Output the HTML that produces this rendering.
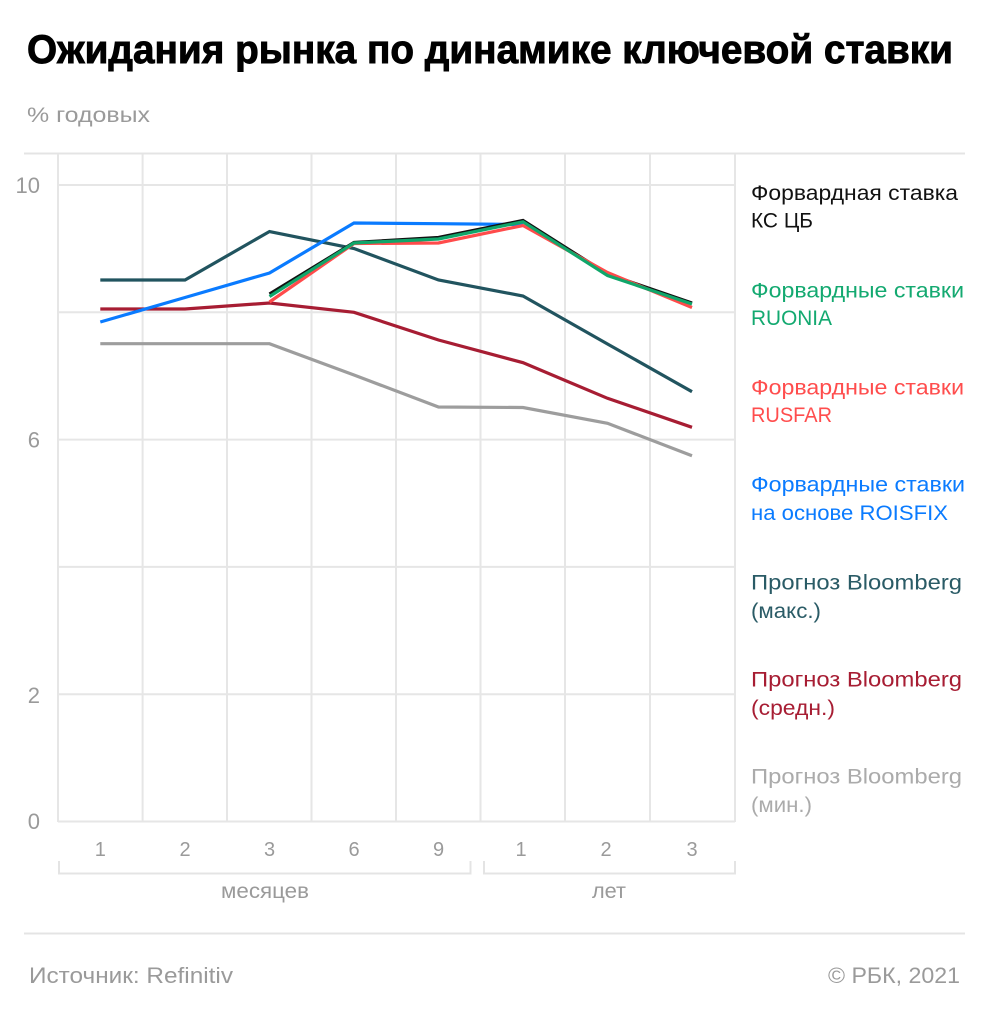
<!DOCTYPE html>
<html>
<head>
<meta charset="utf-8">
<style>
  html,body{margin:0;padding:0;background:#fff;}
  svg{display:block;}
  text{font-family:"Liberation Sans","Noto Sans CJK SC",sans-serif;}
</style>
</head>
<body>
<svg width="989" height="1024" viewBox="0 0 989 1024" xmlns="http://www.w3.org/2000/svg">
  <rect width="989" height="1024" fill="#fff"/>

  <!-- Title -->
  <text x="27" y="63" font-size="40" font-weight="bold" fill="#000" stroke="#000" stroke-width="0.9" textLength="926" lengthAdjust="spacingAndGlyphs">Ожидания рынка по динамике ключевой ставки</text>
  <text x="27" y="122" font-size="21" fill="#9a9a9a" textLength="123" lengthAdjust="spacingAndGlyphs">% годовых</text>

  <!-- top separator -->
  <line x1="24" y1="153.5" x2="965" y2="153.5" stroke="#e4e4e4" stroke-width="2"/>

  <!-- grid -->
  <g stroke="#e6e6e6" stroke-width="2">
    <line x1="58" y1="154" x2="58" y2="822"/>
    <line x1="142.6" y1="154" x2="142.6" y2="822"/>
    <line x1="227" y1="154" x2="227" y2="822"/>
    <line x1="311.5" y1="154" x2="311.5" y2="822"/>
    <line x1="396" y1="154" x2="396" y2="822"/>
    <line x1="480.5" y1="154" x2="480.5" y2="822"/>
    <line x1="565" y1="154" x2="565" y2="822"/>
    <line x1="650" y1="154" x2="650" y2="822"/>
    <line x1="735" y1="154" x2="735" y2="822"/>
    <line x1="58" y1="185" x2="735" y2="185"/>
    <line x1="58" y1="312.3" x2="735" y2="312.3"/>
    <line x1="58" y1="439.6" x2="735" y2="439.6"/>
    <line x1="58" y1="566.9" x2="735" y2="566.9"/>
    <line x1="58" y1="694.2" x2="735" y2="694.2"/>
    <line x1="58" y1="821.5" x2="735" y2="821.5"/>
  </g>

  <!-- y labels -->
  <g font-size="22" fill="#9a9a9a" text-anchor="end">
    <text x="40" y="193">10</text>
    <text x="40" y="447.5">6</text>
    <text x="40" y="703">2</text>
    <text x="40" y="829">0</text>
  </g>

  <!-- x labels -->
  <g font-size="20" fill="#9a9a9a" text-anchor="middle">
    <text x="100.3" y="856">1</text>
    <text x="185" y="856">2</text>
    <text x="269.5" y="856">3</text>
    <text x="354" y="856">6</text>
    <text x="438.5" y="856">9</text>
    <text x="521" y="856">1</text>
    <text x="606" y="856">2</text>
    <text x="692" y="856">3</text>
  </g>

  <!-- brackets -->
  <g stroke="#e4e4e4" stroke-width="2" fill="none">
    <polyline points="59,861 59,873.5 470.5,873.5 470.5,861"/>
    <polyline points="484,861 484,873.5 735,873.5 735,861"/>
  </g>
  <g font-size="21" fill="#9a9a9a">
    <text x="221" y="898" textLength="88" lengthAdjust="spacingAndGlyphs">месяцев</text>
    <text x="592" y="898" textLength="34" lengthAdjust="spacingAndGlyphs">лет</text>
  </g>

  <!-- series -->
  <g fill="none" stroke-width="3.2" stroke-linejoin="miter">
    <polyline stroke="#9d9d9d" points="100.3,343.7 185,343.7 269.5,343.7 354,375 438.5,407 523,407.5 607.5,423.3 692,455.7"/>
    <polyline stroke="#a71d33" points="100.3,309 185,309 269.5,303 354,312.3 438.5,340 523,362.7 607.5,398.3 692,427.3"/>
    <polyline stroke="#21545f" points="100.3,280 185,280 269.5,231.5 354,248.5 438.5,280 523,296 607.5,344 692,391.7"/>
    <polyline stroke="#0a7bff" points="100.3,322 185,297.5 269.5,273 354,223 438.5,223.7 523,224.5"/>
    <polyline stroke="#111" points="269.5,294 354,242.5 438.5,237.5 523,220.5 607.5,274 692,303"/>
    <polyline stroke="#ff4b4b" points="269.5,302 354,243.5 438.5,243 523,225.5 607.5,272.5 692,307.5"/>
    <polyline stroke="#10a66a" points="269.5,296.5 354,243 438.5,239 523,221.8 607.5,275.5 692,304"/>
  </g>

  <!-- legend -->
  <g font-size="21">
    <text x="751" y="200" fill="#111" textLength="207" lengthAdjust="spacingAndGlyphs">Форвардная ставка</text>
    <text x="751" y="227.5" fill="#111" textLength="62" lengthAdjust="spacingAndGlyphs">КС ЦБ</text>

    <text x="751" y="297.3" fill="#13a970" textLength="213" lengthAdjust="spacingAndGlyphs">Форвардные ставки</text>
    <text x="751" y="325" fill="#13a970" textLength="81" lengthAdjust="spacingAndGlyphs">RUONIA</text>

    <text x="751" y="394.5" fill="#ff4d4d" textLength="213" lengthAdjust="spacingAndGlyphs">Форвардные ставки</text>
    <text x="751" y="422" fill="#ff4d4d" textLength="81" lengthAdjust="spacingAndGlyphs">RUSFAR</text>

    <text x="751" y="491.7" fill="#0a7bff" textLength="214" lengthAdjust="spacingAndGlyphs">Форвардные ставки</text>
    <text x="751" y="520" fill="#0a7bff" textLength="197" lengthAdjust="spacingAndGlyphs">на основе ROISFIX</text>

    <text x="751" y="589.3" fill="#2a5b66" textLength="211" lengthAdjust="spacingAndGlyphs">Прогноз Bloomberg</text>
    <text x="751" y="618" fill="#2a5b66" textLength="70" lengthAdjust="spacingAndGlyphs">(макс.)</text>

    <text x="751" y="686.5" fill="#a71d33" textLength="211" lengthAdjust="spacingAndGlyphs">Прогноз Bloomberg</text>
    <text x="751" y="715" fill="#a71d33" textLength="84" lengthAdjust="spacingAndGlyphs">(средн.)</text>

    <text x="751" y="783.5" fill="#ababab" textLength="211" lengthAdjust="spacingAndGlyphs">Прогноз Bloomberg</text>
    <text x="751" y="812" fill="#ababab" textLength="61" lengthAdjust="spacingAndGlyphs">(мин.)</text>
  </g>

  <!-- bottom separator -->
  <line x1="24" y1="933.5" x2="965" y2="933.5" stroke="#e4e4e4" stroke-width="2"/>

  <!-- footer -->
  <text x="29" y="983" font-size="22" fill="#9a9a9a" textLength="204" lengthAdjust="spacingAndGlyphs">Источник:  Refinitiv</text>
  <text x="828" y="983" font-size="22" fill="#9a9a9a" textLength="132" lengthAdjust="spacingAndGlyphs">©  РБК, 2021</text>
</svg>
</body>
</html>
